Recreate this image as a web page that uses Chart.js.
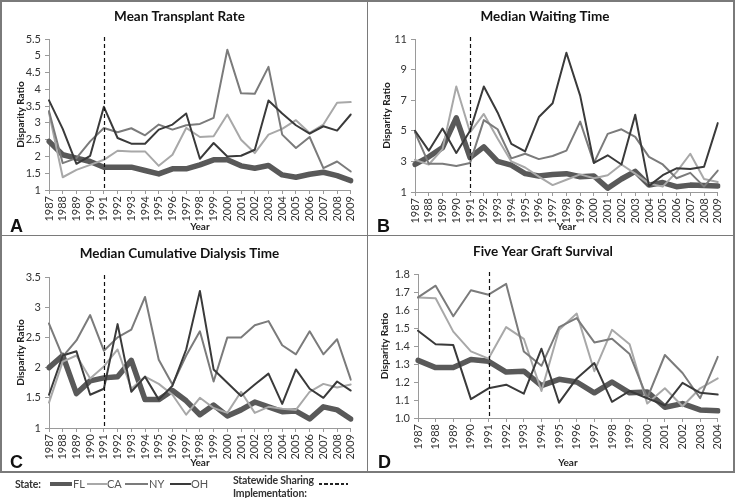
<!DOCTYPE html>
<html><head><meta charset="utf-8">
<script src="https://cdn.jsdelivr.net/npm/chart.js@4.4.1/dist/chart.umd.min.js"></script>
<style>
html,body{margin:0;padding:0;background:#fff;}
body{width:735px;height:498px;position:relative;overflow:hidden;font-family:Lato,"Open Sans",sans-serif;}
.cv{position:absolute;}
.rule{position:absolute;background:#7a7a7a;}
.letter{position:absolute;font-family:"Liberation Sans",Arial,sans-serif;font-weight:bold;font-size:18px;color:#111;line-height:18px;}
.lg{position:absolute;font-size:11px;color:#555;line-height:12px;white-space:nowrap;}
.lgb{font-weight:bold;color:#333;font-size:10.5px;letter-spacing:-0.2px;}
.sw{position:absolute;}
</style></head><body>
<div class="rule" style="left:0;top:0;width:735px;height:1.5px"></div>
<div class="rule" style="left:0;top:471px;width:735px;height:1.5px"></div>
<div class="rule" style="left:0;top:0;width:1.5px;height:472px"></div>
<div class="rule" style="left:733px;top:0;width:1.5px;height:472px"></div>
<div class="rule" style="left:366.5px;top:0;width:1.5px;height:472px"></div>
<div class="rule" style="left:0;top:234.5px;width:735px;height:1.5px"></div>

<canvas id="cA" class="cv" style="left:2px;top:2px" width="364" height="232"></canvas>
<canvas id="cB" class="cv" style="left:368px;top:2px" width="365" height="232"></canvas>
<canvas id="cC" class="cv" style="left:2px;top:236px" width="364" height="235"></canvas>
<canvas id="cD" class="cv" style="left:368px;top:236px" width="365" height="235"></canvas>

<div class="letter" style="left:10px;top:217px">A</div>
<div class="letter" style="left:377px;top:217px">B</div>
<div class="letter" style="left:10px;top:453px">C</div>
<div class="letter" style="left:378px;top:453px">D</div>

<div class="lg lgb" style="left:15px;top:478px">State:</div>
<div class="sw" style="left:50px;top:482px;width:22px;height:4px;background:#595959"></div>
<div class="lg" style="left:73px;top:478px">FL</div>
<div class="sw" style="left:87px;top:483px;width:20px;height:2px;background:#a8a8a8"></div>
<div class="lg" style="left:107px;top:478px">CA</div>
<div class="sw" style="left:125px;top:483px;width:23px;height:2px;background:#7b7b7b"></div>
<div class="lg" style="left:149px;top:478px">NY</div>
<div class="sw" style="left:170px;top:483px;width:21px;height:2px;background:#3a3a3a"></div>
<div class="lg" style="left:191px;top:478px">OH</div>
<div class="lg lgb" style="left:233px;top:474px">Statewide Sharing</div>
<div class="lg lgb" style="left:233px;top:487px">Implementation:</div>
<div class="sw" style="left:319px;top:483px;width:29px;height:1.5px;background:repeating-linear-gradient(90deg,#222 0,#222 3px,transparent 3px,transparent 5.5px)"></div>

<script>
const yearsLong = ['1987','1988','1989','1990','1991','1992','1993','1994','1995','1996','1997','1998','1999','2000','2001','2002','2003','2004','2005','2006','2007','2008','2009'];
const yearsShort = ['1987','1988','1989','1990','1991','1992','1993','1994','1995','1996','1997','1998','1999','2000','2001','2002','2003','2004'];
const sharingYear = '1991';
const stateNames = ['FL','CA','NY','OH'];

// A: Mean Transplant Rate
const rateFL = [2.45,2.05,1.95,1.85,1.68,1.68,1.68,1.58,1.48,1.63,1.63,1.75,1.9,1.9,1.72,1.65,1.73,1.45,1.38,1.47,1.53,1.43,1.28];
const rateCA = [3.3,1.38,1.6,1.75,1.9,2.17,2.15,2.15,1.72,2.05,2.85,2.58,2.6,3.25,2.5,2.1,2.65,2.82,3.08,2.7,2.95,3.6,3.62];
const rateNY = [3.35,1.8,1.95,2.45,2.85,2.72,2.84,2.63,2.95,2.8,2.93,2.97,3.15,5.18,3.88,3.87,4.67,2.65,2.25,2.58,1.65,1.85,1.55];
const rateOH = [3.67,2.82,1.78,2.02,3.48,2.55,2.38,2.38,2.8,2.95,3.28,1.93,2.4,2.0,2.02,2.2,3.67,3.28,2.93,2.68,2.9,2.77,3.25];

// B: Median Waiting Time
const waitFL = [2.8,3.3,3.9,5.85,3.25,3.95,3.0,2.75,2.2,2.05,2.15,2.2,2.0,2.05,1.25,1.85,2.35,1.45,1.62,1.35,1.45,1.42,1.4];
const waitCA = [3.1,2.8,3.8,7.9,4.9,6.1,4.5,3.0,2.6,2.0,1.45,1.8,2.15,1.9,2.1,2.8,2.2,1.55,1.35,2.3,3.5,1.85,1.65];
const waitNY = [4.9,2.85,2.85,2.7,2.9,5.7,5.1,3.2,3.5,3.15,3.35,3.7,5.6,2.9,4.8,5.1,4.6,3.3,2.8,1.9,2.25,1.35,2.4];
const waitOH = [5.0,3.7,5.15,3.55,5.0,7.9,6.2,4.15,3.65,5.9,6.8,10.1,7.3,2.9,3.4,2.8,6.05,1.4,2.1,2.55,2.5,2.65,5.5];

// C: Median Cumulative Dialysis Time
const dialFL = [2.0,2.2,1.57,1.78,1.83,1.85,2.12,1.47,1.47,1.62,1.45,1.22,1.38,1.2,1.3,1.43,1.35,1.27,1.28,1.15,1.35,1.3,1.15];
const dialCA = [1.42,2.1,2.2,1.82,2.02,2.3,1.65,1.85,1.73,1.55,1.22,1.5,1.33,1.25,1.6,1.25,1.35,1.32,1.3,1.6,1.73,1.67,1.72];
const dialNY = [2.73,2.18,2.45,2.87,2.28,2.5,2.63,3.17,2.13,1.72,2.2,2.6,1.77,2.5,2.5,2.7,2.77,2.37,2.22,2.6,2.22,2.47,1.8];
const dialOH = [1.55,2.2,2.27,1.55,1.65,2.72,1.6,1.85,1.47,1.7,2.3,3.27,1.97,1.75,1.53,1.72,1.9,1.4,1.97,1.65,1.5,1.77,1.62];

// D: Five Year Graft Survival
const graftFL = [1.32,1.28,1.28,1.325,1.315,1.255,1.26,1.18,1.215,1.2,1.14,1.2,1.14,1.145,1.06,1.08,1.045,1.04];
const graftCA = [1.67,1.665,1.48,1.37,1.33,1.505,1.44,1.15,1.49,1.58,1.26,1.49,1.41,1.08,1.165,1.065,1.165,1.22];
const graftNY = [1.67,1.735,1.565,1.71,1.685,1.745,1.37,1.29,1.505,1.555,1.42,1.44,1.355,1.11,1.35,1.25,1.11,1.34];
const graftOH = [1.485,1.41,1.405,1.105,1.165,1.185,1.135,1.385,1.085,1.22,1.305,1.09,1.15,1.11,1.07,1.195,1.14,1.13];

const styles = {
  FL:{color:'#595959',width:5.5,order:4},
  CA:{color:'#a8a8a8',width:2,order:3},
  NY:{color:'#7b7b7b',width:2,order:2},
  OH:{color:'#3a3a3a',width:2,order:1}
};

const FONT = 'Lato, "Open Sans", sans-serif';

const sharingLine = {
  id:'sharingLine',
  afterDatasetsDraw(chart){
    const x = chart.scales.x;
    const idx = chart.data.labels.indexOf(sharingYear);
    const px = x.getPixelForValue(idx);
    const a = chart.chartArea;
    const ctx = chart.ctx;
    ctx.save();
    ctx.strokeStyle = '#111';
    ctx.lineWidth = 1.2;
    ctx.setLineDash([4,3]);
    ctx.beginPath();
    ctx.moveTo(Math.round(px)+0.5, a.top - 2);
    ctx.lineTo(Math.round(px)+0.5, a.bottom);
    ctx.stroke();
    ctx.restore();
  }
};

function makeChart(id, p){
  const cv = document.getElementById(id);
  const H = cv.height;
  const datasets = stateNames.map((s,i)=>({
    label:s,
    data:p.series[i],
    borderColor:styles[s].color,
    backgroundColor:styles[s].color,
    borderWidth:styles[s].width,
    order:styles[s].order,
    pointRadius:0,
    tension:0,
    borderJoinStyle:'round',
    borderCapStyle:'round',
    fill:false
  }));
  return new Chart(cv, {
    type:'line',
    data:{labels:p.labels, datasets},
    options:{
      responsive:false,
      animation:false,
      events:[],
      layout:{padding:{left:0,right:cv.width - p.plotRight,top:0,bottom:0}},
      plugins:{
        legend:{display:false},
        tooltip:{enabled:false},
        title:{display:true,text:p.title,color:'#111',
          font:{family:FONT,size:13.5,weight:'bold',lineHeight:1.2},
          padding:{top:p.titleCenter - 8.1, bottom:p.plotTop - p.titleCenter - 8.1}}
      },
      scales:{
        x:{
          type:'category',
          offset:false,
          afterFit(s){ s.height = H - p.plotBottom; },
          grid:{display:true,drawOnChartArea:false,drawTicks:true,tickLength:4,color:'#9a9a9a'},
          border:{display:true,color:'#9a9a9a',width:1},
          ticks:{autoSkip:false,maxRotation:90,minRotation:90,padding:2,color:'#333',font:{family:FONT,size:11}},
          title:{display:true,text:'Year',color:'#222',font:{family:FONT,size:10,weight:'bold',lineHeight:1.2},
            padding:{top:0,bottom:H - p.yearCenter - 6}}
        },
        y:{
          min:p.min,max:p.max,
          afterFit(s){ s.width = p.plotLeft; },
          grid:{display:true,drawOnChartArea:false,drawTicks:true,tickLength:4,color:'#9a9a9a'},
          border:{display:true,color:'#9a9a9a',width:1},
          ticks:{stepSize:p.step,padding:4,color:'#333',font:{family:FONT,size:11},
            callback:p.fmt || (v=>String(Math.round(v*100)/100))},
          title:{display:true,text:'Disparity Ratio',color:'#222',font:{family:FONT,size:10,weight:'bold',lineHeight:1.2},
            padding:{top:p.yTitleX - 6,bottom:0}}
        }
      }
    },
    plugins:[sharingLine]
  });
}

makeChart('cA',{title:'Mean Transplant Rate',labels:yearsLong,series:[rateFL,rateCA,rateNY,rateOH],
  min:1,max:5.5,step:0.5,plotLeft:47,plotRight:355,plotTop:37,plotBottom:188,titleCenter:15,yearCenter:225,yTitleX:19});
makeChart('cB',{title:'Median Waiting Time',labels:yearsLong,series:[waitFL,waitCA,waitNY,waitOH],
  min:1,max:11,step:1,plotLeft:47,plotRight:354,plotTop:37,plotBottom:190,titleCenter:15,yearCenter:225,yTitleX:18.5});
makeChart('cC',{title:'Median Cumulative Dialysis Time',labels:yearsLong,series:[dialFL,dialCA,dialNY,dialOH],
  min:1,max:3.5,step:0.5,plotLeft:47,plotRight:355,plotTop:41,plotBottom:192,titleCenter:18,yearCenter:227,yTitleX:19});
makeChart('cD',{title:'Five Year Graft Survival',labels:yearsShort,series:[graftFL,graftCA,graftNY,graftOH],
  min:1,max:1.8,step:0.1,fmt:(v=>v.toFixed(1)),plotLeft:50,plotRight:350,plotTop:38,plotBottom:182,titleCenter:16,yearCenter:227,yTitleX:17});
</script>
</body></html>
